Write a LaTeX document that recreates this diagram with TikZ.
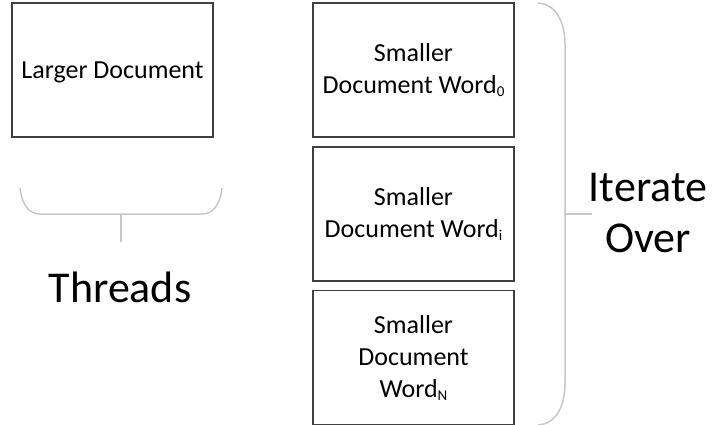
\documentclass[tikz,border=0pt]{standalone}
\usepackage{fontspec}
\setmainfont{Carlito}
\definecolor{boxline}{HTML}{404040}
\definecolor{braceline}{HTML}{C8C8C8}
\newcommand{\subsc}[1]{\raisebox{-3pt}{\fontsize{15}{15}\selectfont #1}}
\begin{document}
\begin{tikzpicture}[x=1pt,y=-1pt,
  docbox/.style={draw=boxline, line width=1.5pt, fill=white, minimum width=201pt, minimum height=134pt,
    inner sep=0pt, align=center, font=\fontsize{26}{32}\selectfont},
  bracestyle/.style={draw=braceline, line width=1.5pt},
  biglabel/.style={inner sep=0pt, align=center, font=\fontsize{44}{51}\selectfont}]
\useasboundingbox (0,0) rectangle (712,425);
\fill[white] (0,0) rectangle (712,425);

\node[docbox, text depth=0pt] (larger) at (112.5,70) {Larger Document};
\node[docbox] (small0) at (413.5,70) {Smaller\\Document Word\subsc{0}};
\node[docbox] (smalli) at (413.5,214) {Smaller\\Document Word\subsc{i}};
\node[docbox] (smalln) at (413.5,357.5) {Smaller\\Document\\Word\subsc{N}};

% left brace
\coordinate (lb1) at (20,188);
\coordinate (lb2) at (40,214);
\coordinate (lb3) at (202,214);
\coordinate (lb4) at (222,188);
\coordinate (lbmid) at (121,214);
\coordinate (lbend) at (121,242);
\draw[bracestyle] (lb1) .. controls (22,205) and (29,214) .. (lb2) -- (lb3) .. controls (213,214) and (220,205) .. (lb4);
\draw[bracestyle] (lbmid) -- (lbend);
\node[biglabel, anchor=base] (threads) at (120,302) {Threads};

% right brace
\coordinate (rb1) at (538,3);
\coordinate (rb2) at (565,45);
\coordinate (rb3) at (565,383);
\coordinate (rb4) at (538,425);
\coordinate (rbmid) at (565,214);
\coordinate (rbend) at (592,214);
\draw[bracestyle] (rb1) .. controls (555,4) and (565,20) .. (rb2) -- (rb3) .. controls (565,408) and (555,424) .. (rb4);
\draw[bracestyle] (rbmid) -- (rbend);
\node[biglabel, anchor=north] (iterate) at (648,173) {Iterate\\Over};
\end{tikzpicture}
\end{document}
